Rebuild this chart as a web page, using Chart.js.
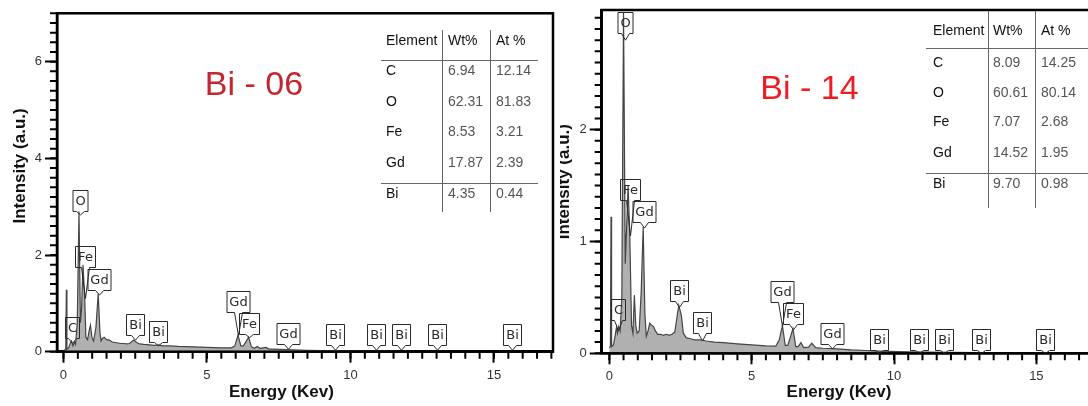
<!DOCTYPE html>
<html lang="en">
<head>
<meta charset="UTF-8">
<title>EDS Bi-06 / Bi-14</title>
<script src="https://cdn.jsdelivr.net/npm/chart.js"></script>
<style>
body{margin:0;width:1088px;height:406px;overflow:hidden;background:#fff;position:relative;font-family:"Liberation Sans",Arial,sans-serif}
#c06{position:absolute;left:0;top:0}
#wrap14{position:absolute;left:560px;top:0;width:528px;height:406px;overflow:hidden}
#c14{position:absolute;left:-14px;top:0}
.sample{position:absolute;font-size:34px;line-height:1;transform:translate(-50%,-50%);white-space:nowrap}
.t{position:absolute;font-size:14px;line-height:1;transform:translateY(-50%);white-space:nowrap;color:#111}
.t.num{color:#555}
.ln{position:absolute;background:#666}
</style>
</head>
<body>
<canvas id="c06" width="558" height="406"></canvas>
<div id="wrap14"><canvas id="c14" width="560" height="406"></canvas></div>
<script>
// spectrum Bi-06 (energy keV / intensity a.u.)
const kev06 = [0, 0.08, 0.1, 0.12, 0.18, 0.24, 0.28, 0.33, 0.38, 0.42, 0.48, 0.54, 0.59, 0.63, 0.68, 0.74, 0.78, 0.84, 0.9, 0.94, 0.99, 1.05, 1.13, 1.21, 1.27, 1.31, 1.36, 1.42, 1.5, 1.6, 1.7, 1.8, 1.9, 2.0, 2.1, 2.2, 2.3, 2.45, 2.55, 2.65, 2.8, 3.0, 3.15, 3.3, 3.45, 3.7, 4.0, 4.5, 5.0, 5.5, 5.85, 5.97, 6.08, 6.18, 6.27, 6.45, 6.55, 6.65, 6.75, 6.85, 7.05, 7.15, 7.3, 7.5, 8.0, 8.5, 9.0, 10.0, 11.0, 12.0, 14.0, 17.1];
const int06 = [0.02, 0.05, 1.28, 0.05, 0.08, 0.18, 0.22, 0.12, 0.2, 0.15, 0.6, 2.9, 0.6, 0.9, 1.8, 1.1, 0.3, 0.25, 0.45, 0.55, 0.3, 0.22, 0.5, 1.2, 0.4, 0.22, 0.28, 0.3, 0.25, 0.24, 0.2, 0.19, 0.18, 0.17, 0.17, 0.16, 0.17, 0.24, 0.19, 0.16, 0.15, 0.14, 0.13, 0.14, 0.12, 0.12, 0.11, 0.1, 0.09, 0.08, 0.08, 0.12, 0.34, 0.12, 0.12, 0.3, 0.1, 0.07, 0.11, 0.07, 0.09, 0.06, 0.055, 0.05, 0.04, 0.03, 0.025, 0.015, 0.01, 0.008, 0.005, 0.003];

// spectrum Bi-14
const kev14 = [0, 0.04, 0.06, 0.08, 0.14, 0.2, 0.25, 0.29, 0.33, 0.38, 0.44, 0.5, 0.56, 0.62, 0.66, 0.72, 0.78, 0.83, 0.88, 0.93, 0.98, 1.05, 1.12, 1.19, 1.25, 1.3, 1.36, 1.42, 1.48, 1.55, 1.62, 1.7, 1.8, 1.9, 2.0, 2.1, 2.2, 2.3, 2.44, 2.53, 2.6, 2.7, 2.85, 3.0, 3.2, 3.4, 3.7, 4.0, 4.5, 5.0, 5.5, 5.85, 5.97, 6.08, 6.18, 6.27, 6.45, 6.55, 6.63, 6.73, 6.83, 7.0, 7.11, 7.25, 7.5, 8.0, 8.5, 9.0, 9.5, 10.5, 12.0, 14.0, 17.3];
const int14 = [0.05, 0.06, 1.22, 0.06, 0.07, 0.15, 0.23, 0.18, 0.24, 0.2, 0.5, 3.05, 0.8, 1.2, 1.5, 1.05, 0.25, 0.18, 0.52, 0.25, 0.18, 0.2, 0.55, 1.13, 0.35, 0.15, 0.2, 0.27, 0.25, 0.24, 0.2, 0.17, 0.17, 0.16, 0.17, 0.16, 0.17, 0.19, 0.43, 0.34, 0.18, 0.14, 0.13, 0.12, 0.12, 0.11, 0.1, 0.095, 0.085, 0.075, 0.066, 0.065, 0.12, 0.25, 0.07, 0.07, 0.22, 0.06, 0.06, 0.095, 0.05, 0.055, 0.09, 0.05, 0.045, 0.04, 0.03, 0.025, 0.02, 0.012, 0.008, 0.005, 0.003];

// tick labels
const xTicks = [0, 5, 10, 15];
const yTicks06 = [0, 2, 4, 6];
const yTicks14 = [0, 1, 2];

// peak tags: element, energy, pointer tip, box bottom (a.u.)
const tagName = ['C', 'O', 'Fe', 'Gd', 'Bi', 'Bi', 'Gd', 'Fe', 'Gd', 'Bi', 'Bi', 'Bi', 'Bi', 'Bi'];
const tagKev06 = [0.31, 0.56, 0.74, 1.23, 2.48, 3.3, 6.09, 6.46, 7.83, 9.47, 10.9, 11.77, 13.03, 15.63];
const tagTip06 = [0.17, 2.83, 1.1, 1.17, 0.24, 0.12, 0.33, 0.29, 0.05, 0.03, 0.03, 0.03, 0.03, 0.03];
const tagBox06 = [0.28, 2.91, 1.75, 1.28, 0.35, 0.21, 0.83, 0.37, 0.15, 0.14, 0.14, 0.14, 0.14, 0.14];
const tagKev14 = [0.3, 0.56, 0.73, 1.21, 2.45, 3.26, 6.08, 6.45, 7.82, 9.46, 10.88, 11.76, 13.07, 15.3];
const tagTip14 = [0.2, 2.8, 1.05, 1.12, 0.41, 0.11, 0.24, 0.21, 0.04, 0, 0, 0, 0, 0];
const tagBox14 = [0.3, 2.86, 1.37, 1.17, 0.47, 0.18, 0.46, 0.26, 0.08, 0.03, 0.03, 0.03, 0.03, 0.03];

// composition tables
const tableHead = ['Element', 'Wt%', 'At %'];
const tableElem = ['C', 'O', 'Fe', 'Gd', 'Bi'];
const wt06 = ['6.94', '62.31', '8.53', '17.87', '4.35'];
const at06 = ['12.14', '81.83', '3.21', '2.39', '0.44'];
const wt14 = ['8.09', '60.61', '7.07', '14.52', '9.70'];
const at14 = ['14.25', '80.14', '2.68', '1.95', '0.98'];

const FAM = '"Liberation Sans", Arial, sans-serif';

// minor ticks, frame and peak tags
function f_tagPlugin(p_kev, p_tip, p_box, p_xMinor, p_yMinor) {
    return {
        id: 'edsTags',
        afterDraw(chart) {
            const {ctx, chartArea: a, scales: {x, y}} = chart;
            ctx.save();
            ctx.strokeStyle = '#000';
            ctx.lineWidth = 2;
            ctx.beginPath();
            for (let i = 0; i * p_xMinor <= x.max; i++) {
                const px = x.getPixelForValue(i * p_xMinor);
                ctx.moveTo(px, a.bottom); ctx.lineTo(px, a.bottom + 7);
            }
            for (let i = 0; i * p_yMinor <= y.max + 1e-9; i++) {
                const py = y.getPixelForValue(i * p_yMinor);
                ctx.moveTo(a.left, py); ctx.lineTo(a.left - 7, py);
            }
            ctx.stroke();
            ctx.lineWidth = 2.5;
            ctx.strokeRect(a.left, a.top, a.width, a.height);

            ctx.font = '13px "DejaVu Sans"';
            ctx.textAlign = 'center';
            ctx.textBaseline = 'middle';
            ctx.lineWidth = 1;
            ctx.strokeStyle = '#2a2a2a';
            ctx.fillStyle = '#2a2a2a';
            tagName.forEach((n, i) => {
                const px = Math.round(x.getPixelForValue(p_kev[i])) + 0.5;
                const pb = Math.round(y.getPixelForValue(p_box[i])) + 0.5;
                const pt = Math.max(y.getPixelForValue(p_tip[i]), pb + 3);
                const w = Math.round(ctx.measureText(n).width + 5);
                const h = 21;
                const l = px - w / 2;
                ctx.beginPath();
                ctx.moveTo(px - 4, pb);
                ctx.lineTo(l, pb); ctx.lineTo(l, pb - h);
                ctx.lineTo(l + w, pb - h); ctx.lineTo(l + w, pb);
                ctx.lineTo(px + 4, pb); ctx.lineTo(px, pt);
                ctx.closePath();
                ctx.stroke();
                ctx.fillText(n, px, pb - h / 2 + 1);
            });
            ctx.restore();
        }
    };
}

function f_spectrum(p_id, p) {
    return new Chart(document.getElementById(p_id), {
        type: 'line',
        data: {
            datasets: [{
                data: p.kev.map((v, i) => ({x: v, y: p.val[i]})),
                borderColor: '#454545',
                borderWidth: 1.2,
                backgroundColor: '#b0b0b0',
                fill: 'origin',
                pointRadius: 0,
                tension: 0
            }]
        },
        options: {
            responsive: false,
            animation: false,
            devicePixelRatio: 1,
            layout: {padding: p.pad},
            plugins: {legend: {display: false}, tooltip: {enabled: false}},
            scales: {
                x: {
                    type: 'linear', min: p.xmin, max: p.xmax,
                    afterBuildTicks: s => { s.ticks = xTicks.map(v => ({value: v})); },
                    afterFit: s => { s.height = p.xh; },
                    ticks: {color: '#333', font: {size: 13, family: FAM, lineHeight: 1}, padding: 6, maxRotation: 0, autoSkip: false},
                    grid: {drawOnChartArea: false, color: '#000', tickLength: 11, tickWidth: 2},
                    border: {color: '#000', width: 2.5},
                    title: {display: true, text: 'Energy (Kev)' + ' '.repeat(p.xsp), color: '#111',
                        font: {size: 17, weight: 'bold', family: FAM}, padding: {top: 0, bottom: 3}}
                },
                y: {
                    min: 0, max: p.ymax,
                    afterBuildTicks: s => { s.ticks = p.yt.map(v => ({value: v})); },
                    afterFit: s => { s.width = p.yw; },
                    ticks: {color: '#333', font: {size: 13, family: FAM, lineHeight: 1}, padding: 3},
                    grid: {drawOnChartArea: false, color: '#000', tickLength: 12, tickWidth: 2},
                    border: {color: '#000', width: 2.5},
                    title: {display: true, text: ' '.repeat(p.ysp) + 'Intensity (a.u.)', color: '#111',
                        font: {size: 17, weight: 'bold', family: FAM}, padding: {top: p.ytp, bottom: 0}}
                }
            }
        },
        plugins: [f_tagPlugin(p.tk, p.tt, p.tb, 0.5, p.ym)]
    });
}

f_spectrum('c06', {kev: kev06, val: int06, xmin: -0.226, xmax: 17.056, ymax: 7, yt: yTicks06, ym: 0.2,
    pad: {top: 13.3, right: 5, bottom: 0, left: 0}, yw: 57, xh: 54.3, xsp: 10, ysp: 7, ytp: 10,
    tk: tagKev06, tt: tagTip06, tb: tagBox06});
f_spectrum('c14', {kev: kev14, val: int14, xmin: -0.267, xmax: 17.235, ymax: 3.07, yt: yTicks14, ym: 0.1,
    pad: {top: 10, right: 6, bottom: 0, left: 0}, yw: 55.7, xh: 52.7, xsp: 5, ysp: 0, ytp: 7.8,
    tk: tagKev14, tt: tagTip14, tb: tagBox14});

// sample names and tables as page text
function f_text(p_txt, p_x, p_y, p_cls) {
    const d = document.createElement('div');
    d.className = p_cls;
    d.textContent = p_txt;
    d.style.left = p_x + 'px';
    d.style.top = p_y + 'px';
    document.body.appendChild(d);
    return d;
}
function f_line(p_x, p_y, p_w, p_h) {
    const d = document.createElement('div');
    d.className = 'ln';
    d.style.cssText = `left:${p_x}px;top:${p_y}px;width:${p_w}px;height:${p_h}px`;
    document.body.appendChild(d);
}
function f_table(p_cols, p_headY, p_rowY, p_vTop, p_vBot, p_vx, p_hy, p_hl, p_hr, p_wt, p_at) {
    tableHead.forEach((h, i) => f_text(h, p_cols[i], p_headY, 't'));
    tableElem.forEach((e, r) => {
        f_text(e, p_cols[0], p_rowY[r], 't');
        f_text(p_wt[r], p_cols[1], p_rowY[r], 't num');
        f_text(p_at[r], p_cols[2], p_rowY[r], 't num');
    });
    p_vx.forEach(x => f_line(x, p_vTop, 1, p_vBot - p_vTop));
    p_hy.forEach(y => f_line(p_hl, y, p_hr - p_hl, 1));
}

f_text('Bi - 06', 254, 82.5, 'sample').style.color = '#c42630';
f_text('Bi - 14', 809.5, 87, 'sample').style.color = '#ee1d23';

f_table([386, 448, 496], 39.5, [70, 100.7, 130.7, 161.7, 192.7], 30, 212, [442, 490], [60, 182.5], 381, 538, wt06, at06);
f_table([933, 993, 1041], 30, [61.7, 91.7, 121, 151.7, 182.7], 11, 208, [988, 1035], [48, 172.5], 926, 1088, wt14, at14);
</script>
</body>
</html>
